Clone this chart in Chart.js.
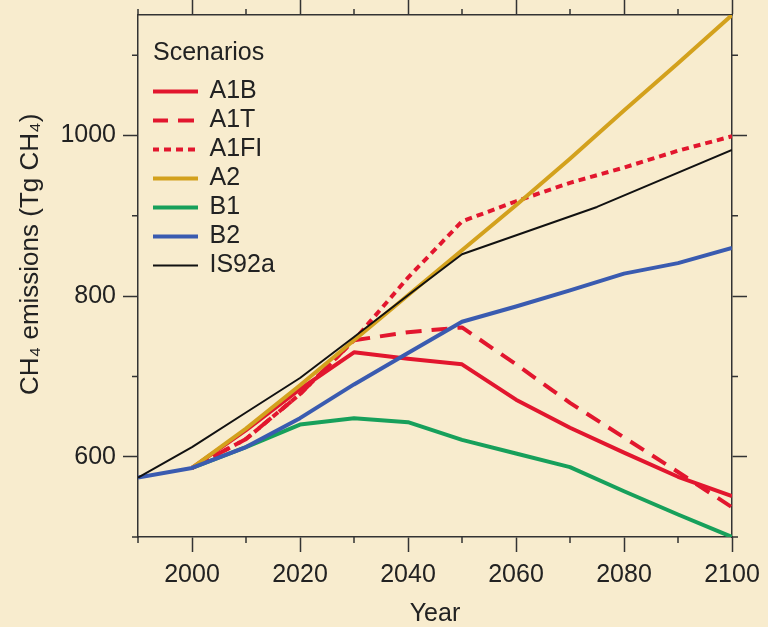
<!DOCTYPE html>
<html>
<head>
<meta charset="utf-8">
<script src="https://cdn.jsdelivr.net/npm/chart.js@4.4.1/dist/chart.umd.min.js"></script>
<style>
    html, body { margin: 0; padding: 0; background: #f8ecce; }
    #wrap { width: 768px; height: 627px; position: relative; }
</style>
</head>
<body>
<div id="wrap"><canvas id="ch4Chart"></canvas></div>
<script>
// Datos (Tg CH4)
const years = [1990, 2000, 2010, 2020, 2030, 2040, 2050, 2060, 2070, 2080, 2090, 2100];
const a1b  = [null, 586, 633, 684, 730, 722, 715, 671, 636, 605, 575, 551];
const a1t  = [null, 586, 622, 678, 745, 755, 761, 715, 667, 624, 581, 537];
const a1fi = [null, 586, 622, 678, 745, 823, 893, 918, 941, 960, 981, 999];
const a2   = [null, 586, 635, 689, 745, 801, 857, 913, 971, 1031, 1090, 1150];
const b1   = [null, 586, 612, 640, 648, 643, 621, 604, 587, 557, 528, 500];
const b2   = [574, 586, 612, 648, 690, 729, 768, 787, 807, 828, 841, 860];
const is92Years = [1990, 2000, 2010, 2020, 2030, 2040, 2050, 2075, 2100];
const is92a = [574, 612, 655, 698, 749, 801, 852, 911, 982];

const fontFam = '"Liberation Sans", Arial, sans-serif';
const axisColor = '#333';
const textColor = '#222';

function puntos(xs, ys) {
    return xs.map((x, i) => ({ x: x, y: ys[i] }));
}

// Muestra de línea para la leyenda (respeta el patrón de guiones)
function muestraLinea(ds) {
    const c = document.createElement('canvas');
    c.width = 50;
    c.height = 8;
    const g = c.getContext('2d');
    g.strokeStyle = ds.borderColor;
    g.lineWidth = ds.borderWidth;
    g.setLineDash(ds.borderDash || []);
    g.beginPath();
    g.moveTo(0, 4);
    g.lineTo(46, 4);
    g.stroke();
    return c;
}

// Ticks menores (cortos) en los cuatro lados
const ticksMenores = {
    id: 'ticksMenores',
    afterLayout(chart) {
        // mover la leyenda un poco hacia dentro del área
        chart.legend.left += 15;
        chart.legend.right += 15;
    },
    afterDraw(chart) {
        const { ctx, chartArea: a } = chart;
        const xs = chart.scales.x, ys = chart.scales.y;
        const len = 6;
        ctx.save();
        ctx.strokeStyle = axisColor;
        ctx.lineWidth = 1.5;
        ctx.beginPath();
        xs.ticks.forEach(t => {
            if (t.value % 20 === 0) return;
            const px = xs.getPixelForValue(t.value);
            ctx.moveTo(px, a.bottom); ctx.lineTo(px, a.bottom + len);
            ctx.moveTo(px, a.top); ctx.lineTo(px, a.top - len);
        });
        ys.ticks.forEach(t => {
            if (t.value % 200 === 0) return;
            const py = ys.getPixelForValue(t.value);
            ctx.moveTo(a.left, py); ctx.lineTo(a.left - len, py);
            ctx.moveTo(a.right, py); ctx.lineTo(a.right + len, py);
        });
        ctx.stroke();
        ctx.restore();
    }
};

const gridX = {
    drawOnChartArea: false,
    drawTicks: true,
    tickLength: 15,
    tickWidth: 1.5,
    tickColor: c => (c.tick && c.tick.value % 20 === 0) ? axisColor : 'rgba(0,0,0,0)'
};
const gridY = {
    drawOnChartArea: false,
    drawTicks: true,
    tickLength: 15,
    tickWidth: 1.5,
    tickColor: c => (c.tick && c.tick.value % 200 === 0) ? axisColor : 'rgba(0,0,0,0)'
};
const borde = { display: true, color: axisColor, width: 1.5 };
const quitarTope = s => { s.ticks = s.ticks.filter(t => t.value <= 1100); };
const anchoFijo = w => s => { s.width = w; s.paddingTop = 0; s.paddingBottom = 0; };
const altoFijo = h => s => { s.height = h; s.paddingLeft = 0; s.paddingRight = 0; };

const ctx = document.getElementById('ch4Chart').getContext('2d');
const ch4Chart = new Chart(ctx, {
    type: 'line',
    data: {
        datasets: [
            { label: 'A1B', data: puntos(years, a1b), borderColor: '#e2162e', borderWidth: 4, order: 3 },
            { label: 'A1T', data: puntos(years, a1t), borderColor: '#e2162e', borderWidth: 4, borderDash: [16, 10], order: 4 },
            { label: 'A1FI', data: puntos(years, a1fi), borderColor: '#e2162e', borderWidth: 4, borderDash: [7, 5], order: 5 },
            { label: 'A2', data: puntos(years, a2), borderColor: '#d3a11d', borderWidth: 4, order: 2 },
            { label: 'B1', data: puntos(years, b1), borderColor: '#17a05b', borderWidth: 4, order: 6 },
            { label: 'B2', data: puntos(years, b2), borderColor: '#3a5bb0', borderWidth: 4, order: 1 },
            { label: 'IS92a', data: puntos(is92Years, is92a), borderColor: '#111', borderWidth: 2, order: 0 }
        ]
    },
    options: {
        responsive: true,
        maintainAspectRatio: false,
        animation: false,
        layout: { padding: 0 },
        elements: {
            point: { radius: 0 },
            line: { tension: 0, fill: false, borderJoinStyle: 'round' }
        },
        scales: {
            x: {
                type: 'linear',
                position: 'bottom',
                min: 1990,
                max: 2100,
                afterFit: altoFijo(90),
                border: borde,
                grid: gridX,
                ticks: {
                    stepSize: 10,
                    padding: 8,
                    autoSkip: false,
                    maxRotation: 0,
                    color: textColor,
                    font: { family: fontFam, size: 25 },
                    callback: v => (v % 20 === 0 ? String(v) : '')
                },
                title: {
                    display: true,
                    text: 'Year',
                    color: textColor,
                    font: { family: fontFam, size: 25 },
                    padding: { top: 0, bottom: -2 }
                }
            },
            x2: {
                type: 'linear',
                position: 'top',
                min: 1990,
                max: 2100,
                afterFit: altoFijo(15),
                border: borde,
                grid: gridX,
                ticks: { stepSize: 10, display: false }
            },
            y: {
                type: 'linear',
                position: 'left',
                min: 500,
                max: 1150,
                afterBuildTicks: quitarTope,
                afterFit: anchoFijo(138),
                border: borde,
                grid: gridY,
                ticks: {
                    stepSize: 100,
                    padding: 7,
                    color: textColor,
                    font: { family: fontFam, size: 25 },
                    callback: v => (v % 200 === 0 ? String(v) : '')
                },
                title: {
                    display: true,
                    text: '      CH₄ emissions (Tg CH₄)',
                    color: textColor,
                    font: { family: fontFam, size: 26 },
                    padding: { top: 15, bottom: 0 }
                }
            },
            y2: {
                type: 'linear',
                position: 'right',
                min: 500,
                max: 1150,
                afterBuildTicks: quitarTope,
                afterFit: anchoFijo(36),
                border: borde,
                grid: gridY,
                ticks: { stepSize: 100, display: false }
            }
        },
        plugins: {
            legend: {
                position: 'chartArea',
                align: 'start',
                title: {
                    display: true,
                    text: 'Scenarios',
                    position: 'start',
                    color: textColor,
                    font: { family: fontFam, size: 25 },
                    padding: { top: 41, bottom: 4 }
                },
                labels: {
                    usePointStyle: true,
                    pointStyleWidth: 40,
                    color: textColor,
                    font: { family: fontFam, size: 25 },
                    padding: 4,
                    sort: (a, b) => a.datasetIndex - b.datasetIndex,
                    generateLabels: chart => {
                        const items = Chart.defaults.plugins.legend.labels.generateLabels(chart);
                        items.forEach(it => {
                            it.pointStyle = muestraLinea(chart.data.datasets[it.datasetIndex]);
                        });
                        return items;
                    }
                }
            },
            tooltip: { enabled: false }
        }
    },
    plugins: [ticksMenores]
});
</script>
</body>
</html>
